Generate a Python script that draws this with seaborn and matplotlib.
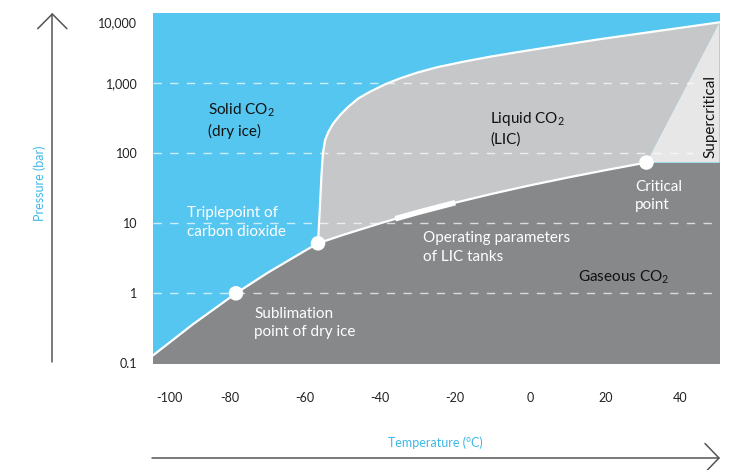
import numpy as np
import matplotlib
matplotlib.use("Agg")
import matplotlib.pyplot as plt
import matplotlib.transforms as mtransforms
import seaborn as sns

# phase boundaries of CO2 (temperature in degC, pressure in bar)
sub_T = [-101, -90, -78.5, -70, -60, -56.6]
sub_P = [0.125, 0.36, 1.0, 1.97, 4.08, 5.18]

vap_T = [-56.6, -50, -40, -30, -20, -10, 0, 10, 20, 31.0]
vap_P = [5.18, 6.8, 10.0, 14.3, 19.7, 26.5, 34.9, 45.0, 57.3, 73.8]

melt_T = [-56.6, -56.0, -55.7, -55.3, -54.7, -53.8, -52.5, -50.7, -48.5,
          -45.8, -42.7, -38.7, -34.7, -30.2, -24.9, -17.8, -10.7, -2.7,
          18.7, 50.5]
melt_P = [5.18, 21.5, 46.3, 100, 155, 204, 268, 352, 463, 611, 759, 968,
          1178, 1417, 1693, 2036, 2399, 2827, 4280, 7430]

# operating range of LIC tanks (on the vapour curve)
op_T = [-36, -30, -20]
op_P = [11.6, 14.3, 19.7]

# special points
pt_names = ["sublimation", "triple", "critical"]
pt_T = [-78.5, -56.6, 31.0]
pt_P = [1.0, 5.18, 73.8]

x_ticks = [-100, -80, -60, -40, -20, 0, 20, 40]
y_ticks = [0.1, 1, 10, 100, 1000, 10000]
y_labels = ["0.1", "1", "10", "100", "1,000", "10,000"]

BLUE = "#55c6ef"
LIQ = "#c6c7c9"
GAS = "#87888a"
SUPER = "#e7e7e8"
LABEL_BLUE = "#3fb8e8"

sns.set_style("white")
plt.rcParams["font.family"] = ["Lato", "DejaVu Sans"]
plt.rcParams["mathtext.fontset"] = "custom"
plt.rcParams["mathtext.rm"] = "Lato"
plt.rcParams["mathtext.it"] = "Lato:italic"
plt.rcParams["mathtext.bf"] = "Lato:bold"

W, H = 738, 470
fig = plt.figure(figsize=(W / 100, H / 100), dpi=100)
ax = fig.add_axes([152.7 / W, 1 - 363.3 / H, (719.5 - 152.7) / W, 350 / H])
ax.set_facecolor(BLUE)
ax.set_yscale("log")
ax.set_xlim(-100.7, 50.5)
ax.set_ylim(0.1, 10000)

# gas region: below sublimation + vapour curve, then flat at critical pressure
gas_T = sub_T + vap_T[1:] + [melt_T[-1]]
gas_P = sub_P + vap_P[1:] + [vap_P[-1]]
ax.fill_between(gas_T, 0.01, gas_P, color=GAS, lw=0, zorder=1)

# liquid region
liq_T = melt_T + vap_T[::-1]
liq_P = melt_P + vap_P[::-1]
ax.fill(liq_T, liq_P, color=LIQ, lw=0, zorder=1)

# supercritical wedge
sc_T = [vap_T[-1], melt_T[-1], melt_T[-1]]
sc_P = [vap_P[-1], melt_P[-1], vap_P[-1]]
ax.fill(sc_T, sc_P, color=SUPER, lw=0, zorder=1)

# dashed grid lines
for p in [1, 10]:
    ax.axhline(p, color="white", alpha=0.7, lw=1, dashes=(6, 6), zorder=2)
for p in [100, 1000]:
    ax.axhline(p, xmax=0.954, color="white", alpha=0.7, lw=1, dashes=(6, 6), zorder=2)

# boundary curves
sns.lineplot(x=sub_T, y=sub_P, color="white", lw=1.6, sort=False, ax=ax, zorder=3)
sns.lineplot(x=vap_T, y=vap_P, color="white", lw=1.6, sort=False, ax=ax, zorder=3)
sns.lineplot(x=melt_T, y=melt_P, color="white", lw=1.6, sort=False, ax=ax, zorder=3)
sns.lineplot(x=op_T, y=op_P, color="white", lw=4, sort=False, ax=ax, zorder=3,
             solid_capstyle="butt")
sns.scatterplot(x=pt_T, y=pt_P, color="white", s=110, edgecolor="none", ax=ax,
                zorder=4)

# axes styling
for s in ax.spines.values():
    s.set_visible(False)
ax.set_xticks(x_ticks)
ax.set_xticklabels([str(t) for t in x_ticks])
ax.set_yticks(y_ticks)
ax.set_yticklabels(y_labels)
ax.minorticks_off()
ax.tick_params(axis="x", length=0, pad=21, labelsize=9, labelcolor="#222222")
ax.tick_params(axis="y", length=0, pad=11, labelsize=9, labelcolor="#222222")
ax.grid(False)
ax.set_xlabel("")
ax.set_ylabel("")

# nudge edge labels like the original
lab = ax.get_xticklabels()[0]
lab.set_transform(lab.get_transform() + mtransforms.ScaledTranslation(14 / 100, 0, fig.dpi_scale_trans))
lab = ax.get_yticklabels()[-1]
lab.set_transform(lab.get_transform() + mtransforms.ScaledTranslation(0, -9 / 100, fig.dpi_scale_trans))

# region labels
fs = 11
ax.text(-85.9, 294, "Solid CO$_2$\n(dry ice)", color="#111111", fontsize=fs,
        va="center", ha="left", linespacing=1.4, zorder=5)
ax.text(-10.7, 226, "Liquid CO$_2$\n(LIC)", color="#111111", fontsize=fs,
        va="center", ha="left", linespacing=1.4, zorder=5)
ax.text(12.8, 1.71, "Gaseous CO$_2$", color="#111111", fontsize=fs,
        va="center", ha="left", zorder=5)
ax.text(48.0, 341, "Supercritical", color="#111111", fontsize=fs,
        va="center", ha="center", rotation=90, zorder=5)
ax.text(-91.5, 10.3, "Triplepoint of\ncarbon dioxide", color="white", fontsize=fs,
        va="center", ha="left", linespacing=1.4, zorder=5)
ax.text(28.0, 24.5, "Critical\npoint", color="white", fontsize=fs,
        va="center", ha="left", linespacing=1.4, zorder=5)
ax.text(-28.5, 4.51, "Operating parameters\nof LIC tanks", color="white", fontsize=fs,
        va="center", ha="left", linespacing=1.4, zorder=5)
ax.text(-73.6, 0.373, "Sublimation\npoint of dry ice", color="white", fontsize=fs,
        va="center", ha="left", linespacing=1.4, zorder=5)

# axis arrows drawn in figure pixels
def fx(px):
    return px / W

def fy(py):
    return 1 - py / H

arrow_kw = dict(color="#555555", lw=1.1, transform=fig.transFigure)
fig.add_artist(plt.Line2D([fx(52.3), fx(52.3)], [fy(362), fy(14)], **arrow_kw))
fig.add_artist(plt.Line2D([fx(37.7), fx(52.3), fx(66.9)], [fy(28.7), fy(14), fy(28.7)], **arrow_kw))
fig.add_artist(plt.Line2D([fx(152), fx(719)], [fy(458), fy(458)], **arrow_kw))
fig.add_artist(plt.Line2D([fx(705), fx(719), fx(705)], [fy(443.5), fy(458), fy(472.5)], **arrow_kw))

fig.text(fx(39.3), fy(183), "Pressure (bar)", color=LABEL_BLUE, fontsize=9,
         rotation=90, ha="center", va="center")
fig.text(fx(435.5), fy(443), "Temperature (°C)", color=LABEL_BLUE, fontsize=9,
         ha="center", va="center")

fig.savefig("out.png", dpi=100)
